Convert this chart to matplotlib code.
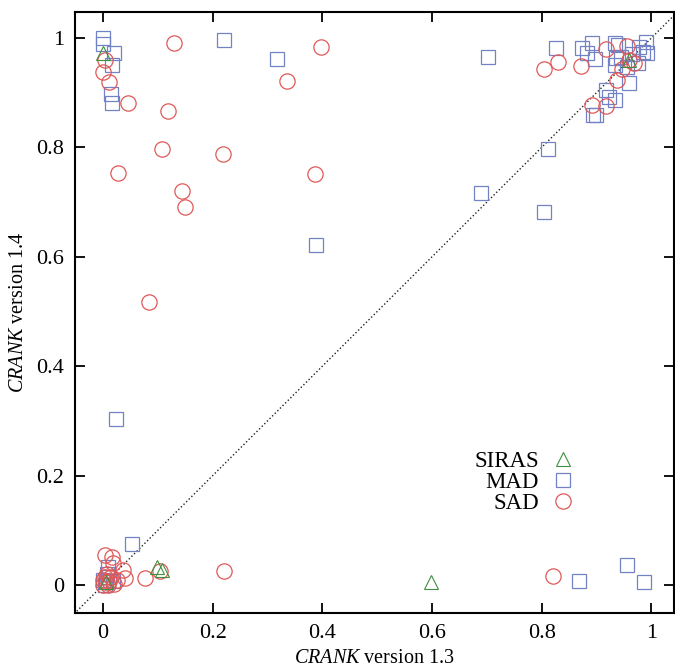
import matplotlib
matplotlib.use("Agg")
import matplotlib.pyplot as plt
import numpy as np

# SIRAS (green triangles)
siras_x = [0.000, 0.098, 0.107, 0.599, 0.960, 0.005]
siras_y = [0.973, 0.033, 0.027, 0.005, 0.960, 0.005]

# MAD (blue squares)
mad_x = [0.000, 0.000, 0.020, 0.016, 0.015, 0.016, 0.220, 0.317, 0.703, 0.388,
         0.024, 0.053, 0.689, 0.805, 0.812,
         0.827, 0.874, 0.891, 0.883, 0.898, 0.934, 0.940, 0.936, 0.933, 0.945,
         0.978, 0.991, 0.993, 0.984, 0.975, 0.960, 0.918, 0.923, 0.933, 0.893,
         0.900, 0.955, 0.965,
         0.869, 0.956, 0.987,
         0.000, 0.005, 0.009, 0.012, 0.003, 0.018, 0.008]
mad_y = [1.000, 0.990, 0.973, 0.951, 0.898, 0.881, 0.996, 0.962, 0.965, 0.622,
         0.303, 0.075, 0.717, 0.682, 0.797,
         0.982, 0.982, 0.991, 0.973, 0.962, 0.991, 0.988, 0.963, 0.951, 0.965,
         0.984, 0.993, 0.973, 0.975, 0.954, 0.918, 0.905, 0.892, 0.887, 0.859,
         0.859, 0.948, 0.970,
         0.007, 0.037, 0.005,
         0.010, 0.005, 0.033, 0.015, 0.000, 0.008, 0.020]

# SAD (red circles)
sad_x = [0.129, 0.397, 0.335, 0.000, 0.004, 0.011, 0.046, 0.118, 0.107, 0.219,
         0.027, 0.144, 0.149, 0.386, 0.084,
         0.805, 0.829, 0.871, 0.918, 0.956, 0.960, 0.969, 0.947, 0.938, 0.891, 0.918,
         0.004, 0.016, 0.018, 0.036, 0.040, 0.077, 0.104, 0.220, 0.820,
         0.000, 0.005, 0.010, 0.015, 0.020, 0.008, 0.000, 0.012, 0.025, 0.003]
sad_y = [0.991, 0.984, 0.921, 0.938, 0.960, 0.920, 0.881, 0.867, 0.797, 0.788,
         0.753, 0.720, 0.691, 0.751, 0.517,
         0.943, 0.956, 0.949, 0.980, 0.985, 0.960, 0.954, 0.943, 0.923, 0.878, 0.876,
         0.055, 0.051, 0.040, 0.027, 0.013, 0.013, 0.026, 0.026, 0.017,
         0.010, 0.005, 0.000, 0.015, 0.002, 0.020, 0.000, 0.008, 0.010, 0.015]

ticks = [0, 0.2, 0.4, 0.6, 0.8, 1]
tick_labels = ["0", "0.2", "0.4", "0.6", "0.8", "1"]

plt.rcParams["font.family"] = ["Liberation Serif", "DejaVu Serif"]
plt.rcParams["mathtext.fontset"] = "custom"
plt.rcParams["mathtext.rm"] = "Liberation Serif"
plt.rcParams["mathtext.it"] = "Liberation Serif:italic"

fig = plt.figure(figsize=(6.75, 6.71), dpi=100)
ax = fig.add_axes([0.111, 0.0864, 0.888, 0.896])

xlim = (-0.051, 1.042)
ylim = (-0.051, 1.048)
ax.plot([-0.1, 1.1], [-0.1, 1.1], linestyle=":", color="#222222", linewidth=1.0, zorder=1)

ax.plot(siras_x, siras_y, linestyle="none", marker="^", markersize=9.5,
        markerfacecolor="none", markeredgecolor="#3f8f3f", markeredgewidth=0.8, label="SIRAS", zorder=3)
ax.plot(mad_x, mad_y, linestyle="none", marker="s", markersize=10.5,
        markerfacecolor="none", markeredgecolor="#7282c4", markeredgewidth=0.9, label="MAD", zorder=2)
ax.plot(sad_x, sad_y, linestyle="none", marker="o", markersize=11,
        markerfacecolor="none", markeredgecolor="#e05858", markeredgewidth=0.9, label="SAD", zorder=2)

ax.set_xlim(*xlim)
ax.set_ylim(*ylim)
ax.set_xticks(ticks)
ax.set_xticklabels(tick_labels)
ax.set_yticks(ticks)
ax.set_yticklabels(tick_labels)
ax.tick_params(direction="in", length=7, width=1.3, top=True, right=True,
               labelsize=16, pad=8)
for s in ax.spines.values():
    s.set_linewidth(1.5)

ax.set_xlabel(r"$\mathit{CRANK}$ version 1.3", fontsize=14.5, labelpad=4)
ax.set_ylabel(r"$\mathit{CRANK}$ version 1.4", fontsize=14.5, labelpad=6)

leg = ax.legend(loc="upper right", bbox_to_anchor=(0.862, 0.296), frameon=False,
                markerfirst=False, fontsize=16.5, labelspacing=0.0, handletextpad=0.5,
                handlelength=1.1, borderpad=0.2)

fig.savefig("out.png", dpi=100)
